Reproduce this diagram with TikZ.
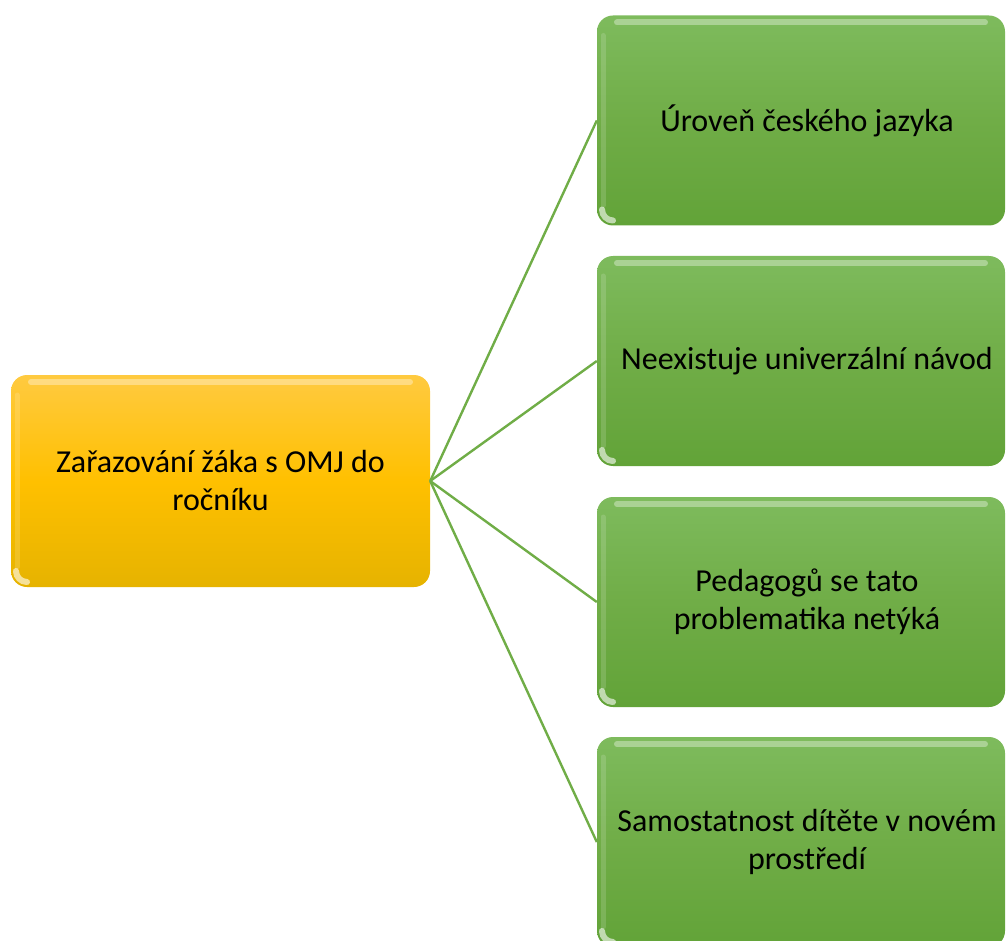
\documentclass[tikz,border=0pt]{standalone}
\usepackage{fontspec}
\setmainfont{Carlito}

\definecolor{goldtop}{HTML}{FFCA40}
\definecolor{goldmid}{HTML}{FFC000}
\definecolor{goldbot}{HTML}{E6B300}
\definecolor{greentop}{HTML}{7EBB5D}
\definecolor{greenmid}{HTML}{70AD47}
\definecolor{greenbot}{HTML}{62A338}
\definecolor{linkgreen}{HTML}{70AD47}

% text in the right-hand boxes sits a little right of centre
\newcommand\indentline{\hspace*{12pt}}

\tikzset{
  % glossy bevel: light rim along the top and left edge, glare in the lower left corner
  gloss/.style={path picture={
    \draw[white, opacity=0.35, line width=6pt, line cap=round]
      ([shift={(20pt,-7pt)}]path picture bounding box.north west) --
      ([shift={(-20pt,-7pt)}]path picture bounding box.north east);
    \draw[white, opacity=0.15, line width=5pt, line cap=round]
      ([shift={(6pt,-20pt)}]path picture bounding box.north west) --
      ([shift={(6pt,20pt)}]path picture bounding box.south west);
    \draw[white, opacity=0.6, line width=6pt, line cap=round]
      ([shift={(5pt,16pt)}]path picture bounding box.south west)
      arc[start angle=180, end angle=270, radius=11pt];
  }},
  box/.style={rounded corners=16pt, align=center, inner sep=0pt, gloss,
    font=\fontsize{32}{38}\selectfont},
  goldbox/.style={box, top color=goldtop, bottom color=goldbot, middle color=goldmid,
    minimum width=419pt, minimum height=212pt},
  greenbox/.style={box, top color=greentop, bottom color=greenbot, middle color=greenmid,
    minimum width=408pt, minimum height=210pt},
  link/.style={draw=linkgreen, line width=2.4pt}
}

\begin{document}
\begin{tikzpicture}[x=1pt, y=-1pt]
  \clip (0,0) rectangle (1006,941);

  \node[goldbox] (root) at (220.5,481) {Zařazování žáka s OMJ do\\ročníku};

  \node[greenbox] (b1) at (801,120.5) {\indentline Úroveň českého jazyka};
  \node[greenbox] (b2) at (801,361) {\indentline Neexistuje univerzální návod};
  \node[greenbox] (b3) at (801,602) {\indentline Pedagogů se tato\\\indentline problematika netýká};
  \node[greenbox] (b4) at (801,842) {\indentline Samostatnost dítěte v novém\\\indentline prostředí};

  \foreach \b in {b1,b2,b3,b4}
    \draw[link] (root.east) -- (\b.west);
\end{tikzpicture}
\end{document}
